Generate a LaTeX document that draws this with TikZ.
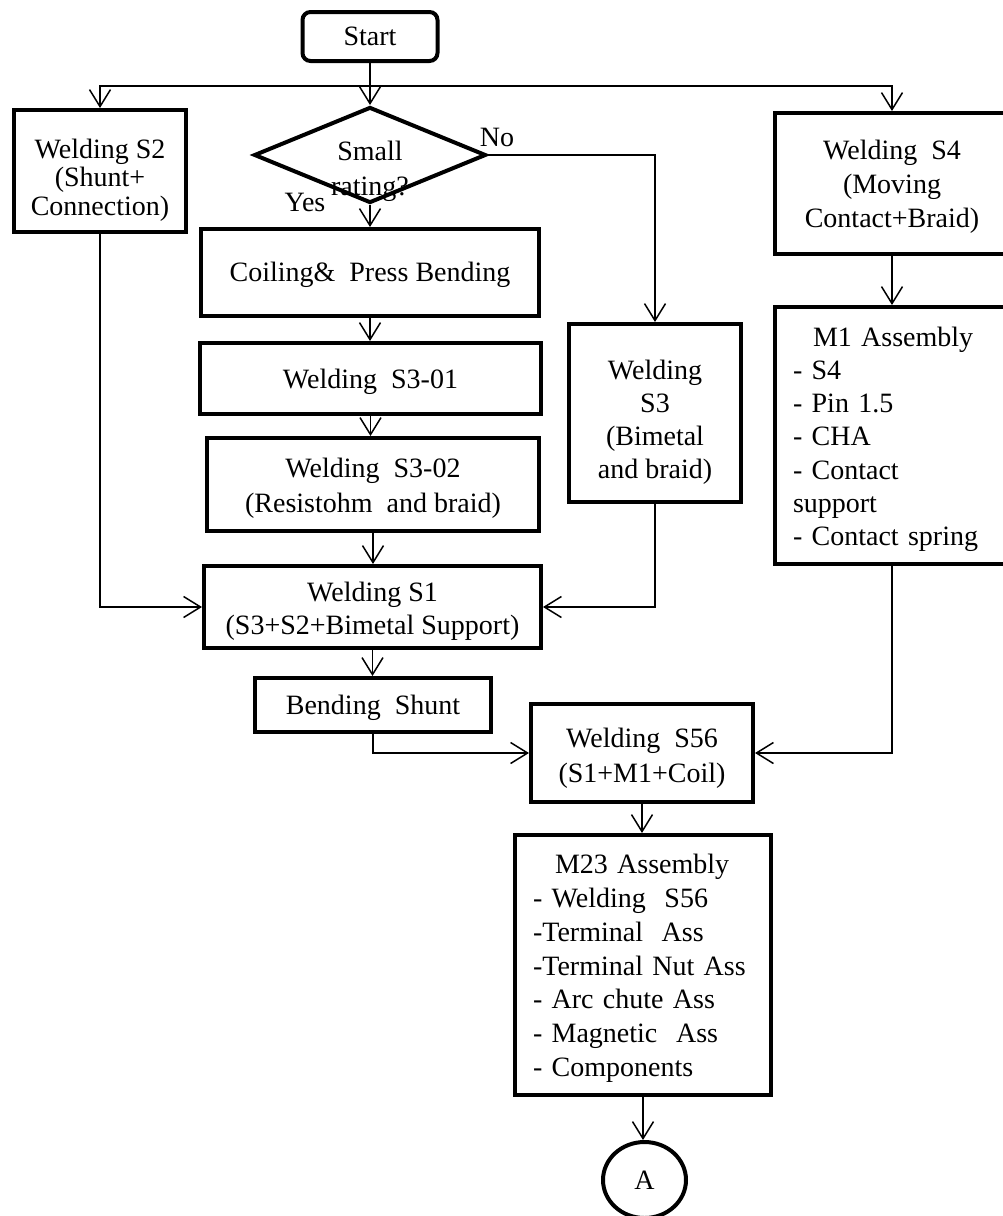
\documentclass[tikz,border=0pt]{standalone}
\usepackage{fontspec}
\setmainfont{Liberation Serif}
\usetikzlibrary{arrows.meta,shapes.geometric}
% a taller first line lowers the text inside its box
\newcommand\lowr[1]{\rule{0pt}{#1}}

\begin{document}
\begin{tikzpicture}[x=1pt,y=-1pt,
  txt/.style={font=\fontsize{28}{33}\selectfont},
  box/.style={draw,line width=4pt,rectangle,inner sep=0pt,align=center,txt},
  conn/.style={line width=1.5pt,-{Straight Barb[length=17pt,width=21pt,line width=1.5pt]}},
  lbl/.style={inner sep=0pt,txt}]

\useasboundingbox (0,0) rectangle (1003,1216);
\clip (0,0) rectangle (1003,1216);

% start and the split to the three branches
\node[box,rounded corners=8pt,minimum width=135,minimum height=49] (start) at (370,36.5) {Start};
\coordinate (j) at (370,86);

% left branch
\node[box,minimum width=172,minimum height=122,font=\fontsize{28}{28.5}\selectfont] (s2) at (100,171) {\lowr{37pt}Welding S2\\(Shunt+\\Connection)};

% decision
\node[draw,diamond,line width=4pt,minimum width=232,minimum height=96,inner sep=0pt] (dia) at (370,155) {};
\node[lbl,align=center,font=\fontsize{28}{35}\selectfont] (diatext) at (370,171) {Small\\rating?};
\node[lbl] (no) at (497,137) {No};
\node[lbl] (yes) at (305,202) {Yes};

% small rating column
\node[box,minimum width=338,minimum height=87] (coil) at (370,272.5) {\lowr{25pt}Coiling\&~ Press Bending};
\node[box,minimum width=341,minimum height=71] (s301) at (370.5,378.5) {\lowr{27pt}Welding~ S3-01};
\node[box,minimum width=332,minimum height=93,font=\fontsize{28}{35}\selectfont] (s302) at (373,484.5) {\lowr{26pt}Welding~ S3-02\\(Resistohm~ and braid)};
\node[box,minimum width=337,minimum height=82] (s1) at (372.5,607) {\lowr{27pt}Welding S1\\(S3+S2+Bimetal Support)};
\node[box,minimum width=236,minimum height=54] (bend) at (373,705) {\lowr{25pt}Bending~ Shunt};

% large rating
\node[box,minimum width=172,minimum height=178] (s3) at (655,413) {\lowr{37pt}Welding\\S3\\(Bimetal\\and braid)};

% right branch
\node[box,minimum width=234,minimum height=141,font=\fontsize{28}{34}\selectfont] (s4) at (892,183.5) {\lowr{25pt}Welding~ S4\\(Moving\\Contact+Braid)};
\node[box,minimum width=234,minimum height=257,align=left,text width=198pt,font=\fontsize{28}{33.3}\selectfont] (m1) at (892,435.5)
  {\lowr{27pt}\hspace*{20pt}M1 Assembly\\- S4\\- Pin 1.5\\- CHA\\- Contact\\support\\- Contact spring};

% final assembly
\node[box,minimum width=222,minimum height=98,font=\fontsize{28}{35}\selectfont] (s56) at (642,753) {\lowr{29pt}Welding~ S56\\(S1+M1+Coil)};
\node[box,minimum width=256,minimum height=260,align=left,text width=220pt,font=\fontsize{28}{33.8}\selectfont] (m23) at (643,965)
  {\lowr{26pt}\hspace*{22pt}M23 Assembly\\- Welding~ S56\\-Terminal~ Ass\\-Terminal Nut Ass\\- Arc chute Ass\\- Magnetic~ Ass\\- Components};
\node[draw,ellipse,line width=4pt,minimum width=83,minimum height=76,inner sep=0pt,txt] (A) at (644.5,1180) {A};

% connectors
\draw[conn] (start.south) -- (dia.north);
\draw[conn] (j) -| (s2.north);
\draw[conn] (j) -| (s4.north);
\draw[conn] (dia.south) -- (coil.north);
\draw[conn] (dia.east) -| (s3.north);
\draw[conn] (coil.south) -- (coil.south |- s301.north);
\draw[conn] (s301.south) -- (s301.south |- s302.north);
\draw[conn] (s302.south) -- (s302.south |- s1.north);
\draw[conn] (s2.south) |- (s1.west);
\draw[conn] (s3.south) |- (s1.east);
\draw[conn] (s1.south) -- (s1.south |- bend.north);
\draw[conn] (s4.south) -- (m1.north);
\draw[conn] (bend.south) |- (s56.west);
\draw[conn] (m1.south) |- (s56.east);
\draw[conn] (s56.south) -- (s56.south |- m23.north);
\draw[conn] (m23.south) -- (m23.south |- A.north);
\end{tikzpicture}
\end{document}
